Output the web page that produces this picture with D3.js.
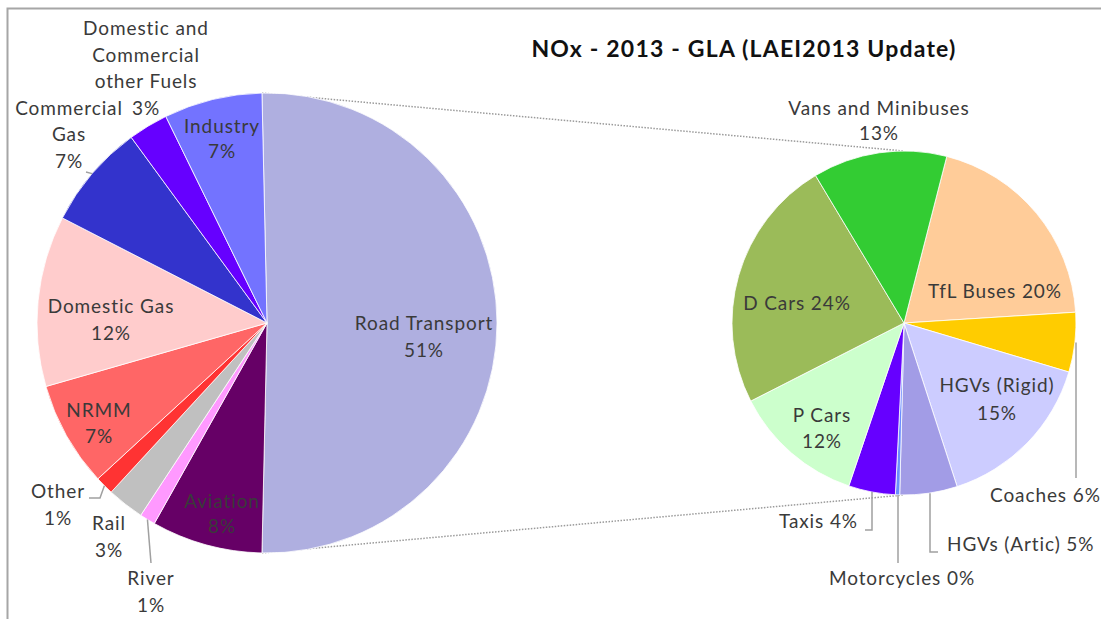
<!DOCTYPE html>
<html>
<head>
<meta charset="utf-8">
<script src="https://cdn.jsdelivr.net/npm/d3@7"></script>
<style>
  html, body { margin: 0; padding: 0; background: #fff; }
  svg { display: block; }
  text { font-family: Lato, "Open Sans", sans-serif; }
</style>
</head>
<body>
<svg id="chart" width="1101" height="619"></svg>
<script>
// ---------------- DATA ----------------
const title = "NOx - 2013 - GLA (LAEI2013 Update)";

// Main pie (clockwise from the road transport slice)
const leftCategories = ["Road Transport", "Aviation", "River", "Rail", "Other", "NRMM",
  "Domestic Gas", "Commercial Gas", "Domestic and Commercial other Fuels", "Industry"];
const leftValues = [50.7, 7.8, 1.1, 2.6, 1.3, 7.4, 12.0, 7.4, 2.8, 6.9];
const leftColors = ["#AFAFE0", "#660066", "#FF99FF", "#C0C0C0", "#FF3333", "#FF6666",
  "#FFCCCC", "#3333CC", "#6600FF", "#7373FF"];
const leftLabelLines = [["Road Transport"], ["Aviation"], ["River"], ["Rail"], ["Other"], ["NRMM"],
  ["Domestic Gas"], ["Commercial", "Gas"], ["Domestic and", "Commercial", "other Fuels"], ["Industry"]];

// Road transport breakdown (clockwise from TfL Buses)
const rightCategories = ["TfL Buses", "Coaches", "HGVs (Rigid)", "HGVs (Artic)", "Motorcycles",
  "Taxis", "P Cars", "D Cars", "Vans and Minibuses"];
const rightValues = [20.0, 5.6, 15.4, 5.4, 0.4, 4.4, 12.3, 23.9, 12.6];
const rightColors = ["#FFCC99", "#FFCC00", "#CCCCFF", "#A29CE6", "#6A8CFF",
  "#6600FF", "#CCFFCC", "#9BBB59", "#33CC33"];

// ---------------- LAYOUT ----------------
const L = { cx: 267, cy: 323, r: 230 };
const R = { cx: 904, cy: 323, r: 172, startDeg: 14.4 };
const labelColor = "#3a3a3a";
const leaderColor = "#a0a0a0";
const fontSize = 19;
const letterSpacing = 0.9;

const leftLabelLayout = [
  { x: 424, ys: [330, 357] },
  { x: 222, ys: [508, 533] },
  { x: 151, ys: [585, 612], leader: [[151, 563]] },
  { x: 109, ys: [530, 557] },
  { x: 58, ys: [498, 525], leader: [[100, 498], [89, 498]] },
  { x: 99, ys: [417, 443] },
  { x: 111, ys: [313, 340] },
  { x: 69, ys: [115, 141, 168], leader: [[86, 172]] },
  { x: 146, ys: [35, 62, 88, 115] },
  { x: 222, ys: [133, 158] }
];
const rightLabelLayout = [
  { x: 995, ys: [298], inline: true },
  { x: 990, ys: [502], inline: true, anchor: "start", leader: [[1076, 478]], vertical: true },
  { x: 997, ys: [392, 420] },
  { x: 947, ys: [551], inline: true, anchor: "start", leader: [[930, 552], [938, 552]], vertical: true },
  { x: 902, ys: [585], inline: true, leader: [[898, 563]], vertical: true },
  { x: 858, ys: [528], inline: true, anchor: "end", leader: [[872, 530], [865, 530]], vertical: true },
  { x: 822, ys: [422, 448] },
  { x: 797, ys: [310], inline: true },
  { x: 879, ys: [115, 140] }
];

const svg = d3.select("#chart");
const fmt = v => Math.round(v) + "%";

// frame
svg.append("path")
  .attr("d", "M7.5,619 L7.5,8.5 L1101,8.5")
  .attr("fill", "none").attr("stroke", "#a6a6a6").attr("stroke-width", 2);

// title
svg.append("text")
  .attr("x", 744).attr("y", 57)
  .attr("text-anchor", "middle")
  .attr("font-size", 23).attr("font-weight", 700)
  .attr("letter-spacing", 1.2)
  .attr("fill", "#111")
  .text(title);

// pies
const total = d3.sum(leftValues);
const roadSpan = leftValues[0] / total * 2 * Math.PI;
const leftStart = Math.PI / 2 - roadSpan / 2;
const leftPie = d3.pie().sort(null).value(d => d)
  .startAngle(leftStart).endAngle(leftStart + 2 * Math.PI);
const rStart = R.startDeg * Math.PI / 180;
const rightPie = d3.pie().sort(null).value(d => d)
  .startAngle(rStart).endAngle(rStart + 2 * Math.PI);

const leftArcs = leftPie(leftValues);
const rightArcs = rightPie(rightValues);

const pt = (c, a, r) => [c.cx + r * Math.sin(a), c.cy - r * Math.cos(a)];

// connector lines (behind pies)
const conn = svg.append("g");
const topL = pt(L, leftArcs[0].startAngle, L.r);
const botL = pt(L, leftArcs[0].endAngle, L.r);
[[topL, [R.cx, R.cy - R.r]], [botL, [R.cx, R.cy + R.r]]].forEach(([a, b]) => {
  conn.append("line")
    .attr("x1", a[0]).attr("y1", a[1]).attr("x2", b[0]).attr("y2", b[1])
    .attr("stroke", "#9a9a9a").attr("stroke-width", 1.5)
    .attr("stroke-dasharray", "1.5,1.5");
});

const arcL = d3.arc().innerRadius(0).outerRadius(L.r);
const arcR = d3.arc().innerRadius(0).outerRadius(R.r);

svg.append("g").attr("transform", `translate(${L.cx},${L.cy})`)
  .selectAll("path").data(leftArcs).join("path")
  .attr("d", arcL)
  .attr("fill", (d, i) => leftColors[i])
  .attr("stroke", "#fff").attr("stroke-width", 0.8);

svg.append("g").attr("transform", `translate(${R.cx},${R.cy})`)
  .selectAll("path").data(rightArcs).join("path")
  .attr("d", arcR)
  .attr("fill", (d, i) => rightColors[i])
  .attr("stroke", "#fff").attr("stroke-width", 0.8);

// labels
function drawLabels(arcs, names, layout, center, radius) {
  const g = svg.append("g");
  arcs.forEach((d, i) => {
    const lay = layout[i];
    const lines = Array.isArray(names[i]) ? names[i].slice() : [names[i]];
    const pct = fmt(d.data);
    if (lay.inline) lines[lines.length - 1] = lines[lines.length - 1] + " " + pct;
    else lines.push(pct);
    if (lay.leader) {
      const mid = (d.startAngle + d.endAngle) / 2;
      const p0 = pt(center, mid, radius);
      const pts = [p0].concat(lay.leader);
      if (lay.vertical) pts[0] = [lay.leader[0][0], p0[1]];
      g.append("path")
        .attr("d", d3.line()(pts))
        .attr("fill", "none").attr("stroke", leaderColor).attr("stroke-width", 1.5);
    }
    lines.forEach((t, j) => {
      g.append("text")
        .attr("x", lay.x).attr("y", lay.ys[j])
        .attr("text-anchor", lay.anchor || "middle")
        .attr("font-size", fontSize)
        .attr("letter-spacing", letterSpacing)
        .attr("fill", labelColor)
        .text(t);
    });
  });
}
drawLabels(leftArcs, leftLabelLines, leftLabelLayout, L, L.r);
drawLabels(rightArcs, rightCategories, rightLabelLayout, R, R.r);
</script>
</body>
</html>
